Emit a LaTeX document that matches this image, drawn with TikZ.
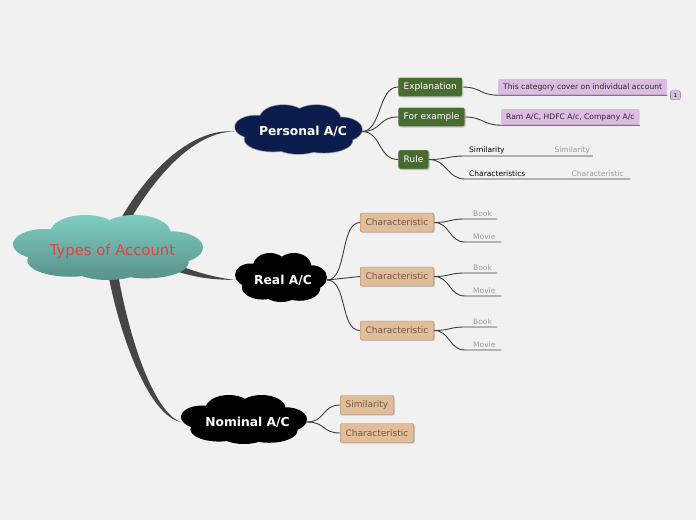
\documentclass[tikz,border=0pt]{standalone}
\usepackage{fontspec}
\setmainfont{DejaVu Sans}
\usepackage{tikz}
\usepackage{xcolor}
\usetikzlibrary{positioning, calc, backgrounds, shadows}
\definecolor{page}{HTML}{F1F1F1}
\definecolor{trunkgray}{HTML}{464646}
\definecolor{linkgray}{HTML}{3C3C3C}
\definecolor{rootred}{HTML}{F03C3C}
\definecolor{tealtop}{HTML}{7FCDC0}
\definecolor{tealbot}{HTML}{58918A}
\definecolor{navy}{HTML}{0B1D4D}
\definecolor{leafgreen}{HTML}{476B30}
\definecolor{notepink}{HTML}{DCBCE2}
\definecolor{tanfill}{HTML}{E3BC98}
\definecolor{tanedge}{HTML}{9E8466}
\definecolor{tantext}{HTML}{6A594A}
\definecolor{dimtext}{HTML}{9A9A9A}

% cloud made of puffs, spans -1..1 both ways
\tikzset{
  puffcloud/.pic={
    \path[#1] (0,0) ellipse [x radius=0.6, y radius=0.6]
              (-0.24,-0.45) ellipse [x radius=0.37, y radius=0.55]
              (0.28,-0.45) ellipse [x radius=0.38, y radius=0.55]
              (-0.67,-0.1) ellipse [x radius=0.33, y radius=0.47]
              (0.66,0) ellipse [x radius=0.34, y radius=0.5]
              (-0.4,0.4) ellipse [x radius=0.45, y radius=0.5]
              (0.4,0.45) ellipse [x radius=0.45, y radius=0.5]
              (0,0.55) ellipse [x radius=0.4, y radius=0.45];
  }
}

\begin{document}
\begin{tikzpicture}[
    x=1pt, y=-1pt,
    topic/.style={rectangle, inner sep=0pt, text=white,
                  font=\bfseries\fontsize{12.3}{14}\selectfont},
    greenbox/.style={rectangle, rounded corners=2pt, fill=leafgreen,
                     draw=white!75!leafgreen, text=white, minimum height=19pt,
                     inner xsep=5.5pt, font=\fontsize{9}{10}\selectfont,
                     drop shadow={opacity=0.35, shadow xshift=1pt, shadow yshift=-1pt}},
    tanbox/.style={rectangle, rounded corners=2pt, fill=tanfill, draw=tanedge,
                   text=tantext, minimum height=19pt, inner xsep=5.5pt,
                   font=\fontsize{9}{10}\selectfont,
                   drop shadow={opacity=0.35, shadow xshift=1pt, shadow yshift=-1pt}},
    note/.style={rectangle, rounded corners=2pt, fill=notepink, text=black!85,
                 minimum height=16pt, inner xsep=5pt, font=\fontsize{7.6}{9}\selectfont},
    badge/.style={rectangle, rounded corners=2pt, fill=notepink, draw=black!55,
                  minimum width=10pt, minimum height=9pt, inner sep=0.5pt,
                  font=\fontsize{5.5}{6}\selectfont},
    leaf/.style={anchor=south west, inner xsep=4pt, inner ysep=2pt, align=left,
                 font=\fontsize{7.5}{9}\selectfont},
    link/.style={draw=linkgray, line width=0.9pt},
    trunk/.style={fill=trunkgray}
  ]
    \useasboundingbox (0,0) rectangle (696,520);

    % clouds
    \pic[xscale=95, yscale=32.5] at (108,247.5) {puffcloud={top color=tealtop, bottom color=tealbot}};
    \pic[xscale=63.5, yscale=24.5] at (298.5,129.5) {puffcloud={draw=black!40, line width=1.4pt}};
    \pic[xscale=63.5, yscale=24.5] at (298.5,129.5) {puffcloud={fill=navy}};
    \pic[xscale=46, yscale=24.5] at (281,277.5) {puffcloud={fill=black}};
    \pic[xscale=63, yscale=24.5] at (244,419.5) {puffcloud={fill=black}};

    % main topics
    \node[rectangle, inner sep=0pt, minimum width=190pt, minimum height=65pt,
          text=rootred, font=\fontsize{14.8}{17}\selectfont] (root) at (108,251) {\hspace*{9pt}Types of Account};
    \node[topic, minimum width=127pt, minimum height=48pt] (personal) at (298,131.5) {\hspace*{10pt}Personal A/C};
    \node[topic, minimum width=92pt, minimum height=48pt] (real) at (281,280) {\hspace*{4pt}Real A/C};
    \node[topic, minimum width=126pt, minimum height=48pt] (nominal) at (244,422) {\hspace*{7pt}Nominal A/C};

    % personal branch
    \node[greenbox, anchor=west] (explain) at (398,87) {Explanation};
    \node[greenbox, anchor=west] (forex) at (398,117) {For example};
    \node[greenbox, anchor=west] (rule) at (398,159.5) {Rule};
    \node[note, anchor=west] (note1) at (498,87) {This category cover on individual account};
    \node[note, anchor=west] (note2) at (501,117) {Ram A/C, HDFC A/c, Company A/c};
    \node[badge] (count) at ($(note1.south east)+(8,0)$) {1};
    \node[leaf, text width=77pt] (sim1) at (465,156) {Similarity};
    \node[leaf, text width=34pt, text=dimtext, right=0pt of sim1] (sim2) {Similarity};
    \node[leaf, text width=94pt] (char1) at (465,179) {Characteristics};
    \node[leaf, text width=54pt, text=dimtext, right=0pt of char1] (char2) {Characteristic};

    % real branch
    \node[tanbox, anchor=west] (charA) at (360,222.5) {Characteristic};
    \node[tanbox, anchor=west] (charB) at (360,276.5) {Characteristic};
    \node[tanbox, anchor=west] (charC) at (360,330.5) {Characteristic};
    \node[leaf, text width=24pt, text=dimtext] (bookA) at (465,219) {\hspace*{4pt}Book};
    \node[leaf, text width=28pt, text=dimtext] (movieA) at (465,242) {\hspace*{4pt}Movie};
    \node[leaf, text width=24pt, text=dimtext] (bookB) at (465,273) {\hspace*{4pt}Book};
    \node[leaf, text width=28pt, text=dimtext] (movieB) at (465,296) {\hspace*{4pt}Movie};
    \node[leaf, text width=24pt, text=dimtext] (bookC) at (465,327) {\hspace*{4pt}Book};
    \node[leaf, text width=28pt, text=dimtext] (movieC) at (465,350) {\hspace*{4pt}Movie};

    % nominal branch
    \node[tanbox, anchor=west] (simN) at (340,405) {Similarity};
    \node[tanbox, anchor=west] (charN) at (340,433) {Characteristic};

    \begin{scope}[on background layer]
      \fill[page] (0,0) rectangle (696,520);
      \fill[trunk] ($(root)+(8,-24)$) .. controls (150,165) and (195,128) .. (personal.west)
                   .. controls (197,132) and (158,170) .. ($(root)+(18,-24)$) -- cycle;
      \fill[trunk] ($(root)+(62,11)$) .. controls (200,274) and (215,277) .. (real.west)
                   .. controls (215,279.5) and (200,279) .. ($(root)+(64,19)$) -- cycle;
      \fill[trunk] ($(root)+(-1,17)$) .. controls (120,340) and (150,416) .. (nominal.west)
                   .. controls (153,412) and (128,335) .. ($(root)+(9,17)$) -- cycle;
    \end{scope}

    \draw[link] (personal.east) .. controls +(20,0) and +(-20,0) .. (explain.west);
    \draw[link] (personal.east) .. controls +(20,0) and +(-20,0) .. (forex.west);
    \draw[link] (personal.east) .. controls +(20,0) and +(-20,0) .. (rule.west);
    \draw[link] (explain.east) .. controls +(18,0) and +(-18,0) .. (note1.south west) -- (note1.south east);
    \draw[link] (forex.east) .. controls +(18,0) and +(-18,0) .. (note2.south west) -- (note2.south east);
    \draw[link] (rule.east) .. controls +(18,0) and +(-18,0) .. (sim1.south west) -- (sim2.south east);
    \draw[link] (rule.east) .. controls +(18,0) and +(-18,0) .. (char1.south west) -- (char2.south east);

    \draw[link] (real.east) .. controls +(20,0) and +(-20,0) .. (charA.west);
    \draw[link] (real.east) -- (charB.west);
    \draw[link] (real.east) .. controls +(20,0) and +(-20,0) .. (charC.west);
    \draw[link] (charA.east) .. controls +(16,0) and +(-16,0) .. (bookA.south west) -- (bookA.south east);
    \draw[link] (charA.east) .. controls +(16,0) and +(-16,0) .. (movieA.south west) -- (movieA.south east);
    \draw[link] (charB.east) .. controls +(16,0) and +(-16,0) .. (bookB.south west) -- (bookB.south east);
    \draw[link] (charB.east) .. controls +(16,0) and +(-16,0) .. (movieB.south west) -- (movieB.south east);
    \draw[link] (charC.east) .. controls +(16,0) and +(-16,0) .. (bookC.south west) -- (bookC.south east);
    \draw[link] (charC.east) .. controls +(16,0) and +(-16,0) .. (movieC.south west) -- (movieC.south east);

    \draw[link] (nominal.east) .. controls +(18,0) and +(-18,0) .. (simN.west);
    \draw[link] (nominal.east) .. controls +(18,0) and +(-18,0) .. (charN.west);
  \end{tikzpicture}
\end{document}
